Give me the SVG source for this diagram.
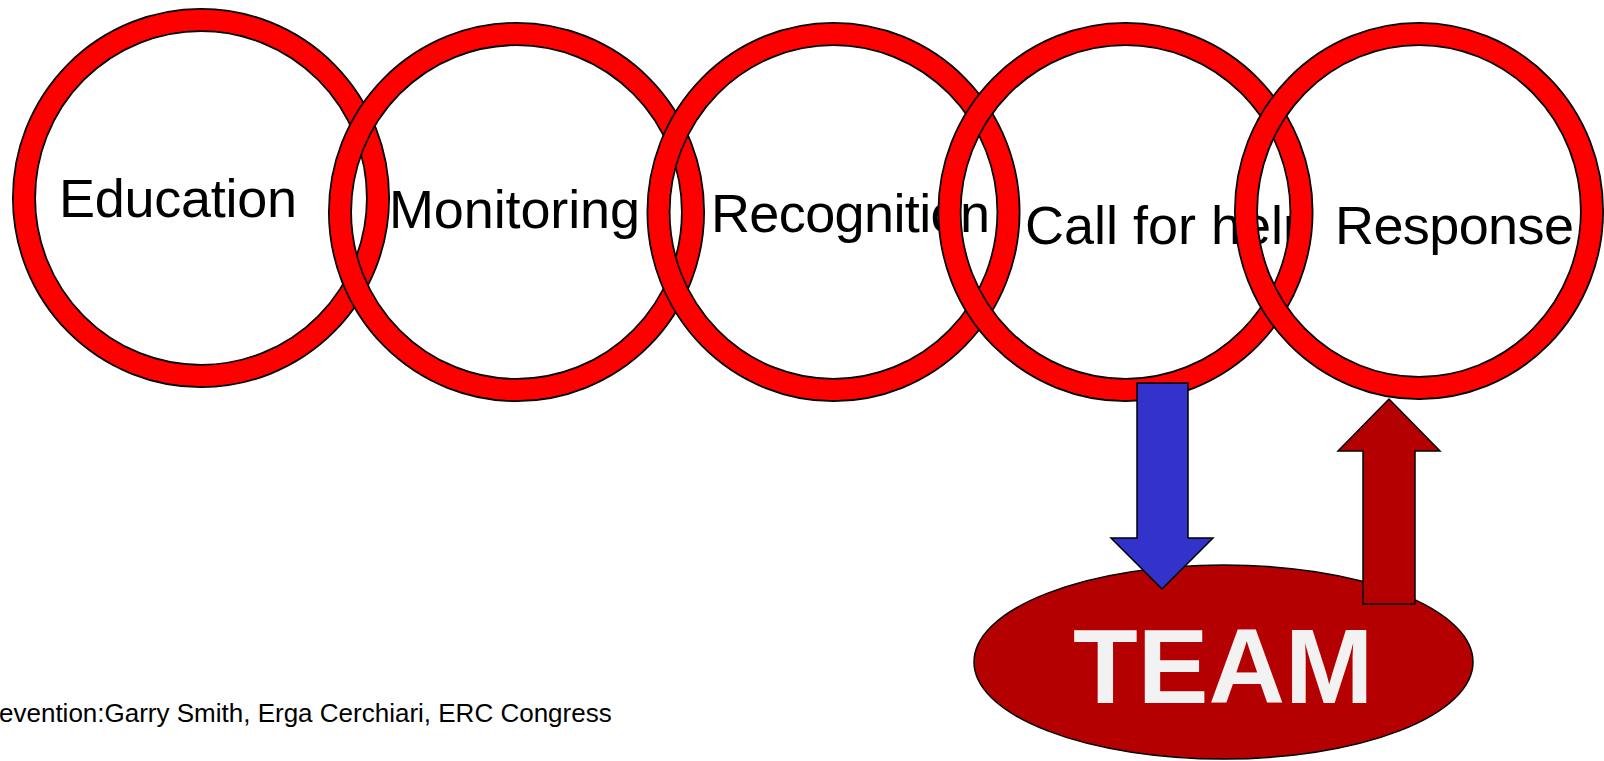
<svg xmlns="http://www.w3.org/2000/svg" width="1604" height="761" viewBox="0 0 1604 761">
  <style>
    .ringOut { fill: none; stroke: #000000; stroke-width: 24; }
    .ringIn { fill: none; stroke: #FF0000; stroke-width: 20.5; }
    .lbl { font-family: "Liberation Sans", Arial, sans-serif; font-size: 54px; fill: #000000; }
    .team { font-family: "Liberation Sans", Arial, sans-serif; font-size: 106px; font-weight: bold; fill: #F2F2F2; }
    .foot { font-family: "Liberation Sans", Arial, sans-serif; font-size: 26px; fill: #000000; }
    .arrow { stroke: #000000; stroke-width: 1.5; stroke-linejoin: miter; }
  </style>
  <rect x="0" y="0" width="1604" height="761" fill="#FFFFFF"/>

  <g id="node-education">
    <text class="lbl" x="59" y="217" textLength="238">Education</text>
    <ellipse class="ringOut" cx="201" cy="198" rx="177" ry="178"/>
    <ellipse class="ringIn" cx="201" cy="198" rx="177" ry="178"/>
  </g>
  <g id="node-monitoring">
    <text class="lbl" x="389" y="228" textLength="251">Monitoring</text>
    <ellipse class="ringOut" cx="516.5" cy="212" rx="176.5" ry="178"/>
    <ellipse class="ringIn" cx="516.5" cy="212" rx="176.5" ry="178"/>
  </g>
  <g id="node-recognition">
    <text class="lbl" x="711" y="232" textLength="279">Recognition</text>
    <ellipse class="ringOut" cx="833.5" cy="212" rx="175" ry="178"/>
    <ellipse class="ringIn" cx="833.5" cy="212" rx="175" ry="178"/>
  </g>
  <g id="node-callforhelp">
    <text class="lbl" x="1025" y="244" textLength="288">Call for help</text>
    <ellipse class="ringOut" cx="1125.5" cy="212" rx="176" ry="178"/>
    <ellipse class="ringIn" cx="1125.5" cy="212" rx="176" ry="178"/>
  </g>
  <g id="node-response">
    <text class="lbl" x="1335" y="244" textLength="239">Response</text>
    <ellipse class="ringOut" cx="1419" cy="211" rx="173" ry="177"/>
    <ellipse class="ringIn" cx="1419" cy="211" rx="173" ry="177"/>
  </g>

  <g id="node-team">
    <ellipse cx="1223.5" cy="662" rx="249.5" ry="97" fill="#B40000" stroke="#000000" stroke-width="1.5"/>
    <text class="team" x="1073" y="703">TEAM</text>
  </g>

  <g id="connectors">
    <polygon class="arrow" fill="#3333CC" points="1137,383 1188,383 1188,538 1213,538 1162,589 1111,538 1137,538"/>
    <polygon class="arrow" fill="#B40000" points="1389,399 1440,451 1415,451 1415,604 1363,604 1363,451 1338,451"/>
  </g>

  <g id="footer">
    <text class="foot" x="-1" y="722">evention:Garry Smith, Erga Cerchiari, ERC Congress</text>
  </g>
</svg>
